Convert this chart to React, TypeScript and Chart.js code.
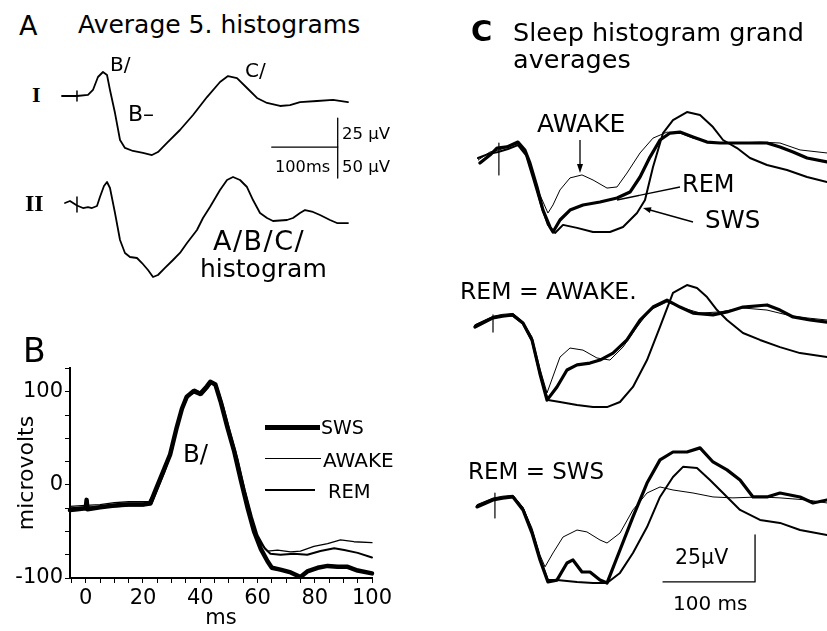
import React, { useEffect, useRef } from "react";
import { Chart, registerables } from "chart.js";
Chart.register(...registerables);

type Pt = [number, number];

// ---------- Panel A (x: ms from stimulus, y: µV) ----------
const A_TRACE_I: Pt[] = [
  [-22.7, 0], [-10.6, 0], [0, 0], [16.7, 0.9], [24.2, 5.2], [31.8, 16.4], [39.4, 20.7], [45.5, 18.1],
  [50, 5.2], [57.6, -14.7], [65.2, -37.9], [72.7, -44.8], [84.8, -47.4], [100, -49.1], [113.6, -50.9],
  [122.7, -48.3], [136.4, -40.5], [156, -29.3], [175.8, -16.4], [197, -0.9], [216.7, 12.1], [228.8, 17.2],
  [242.4, 15.5], [257.6, 6.9], [272.7, -1.7], [287.9, -6], [307.6, -8.6], [322.7, -7.8], [337.9, -5.2],
  [363.6, -4.3], [387.9, -3.4], [410.6, -5.2],
];
const A_TRACE_II: Pt[] = [
  [-18.2, 0], [-10.6, 3.2], [0, -4], [9.1, -8.1], [16.7, -6.5], [22.7, -8.1], [30.3, -4.8], [34.8, 9.7],
  [40.9, 27.4], [45.5, 33.9], [50, 24.2], [57.6, -16.1], [65.2, -59.7], [72.7, -80.6], [80.3, -87.1],
  [90.9, -88.7], [98.5, -96.8], [107.6, -108.1], [115.2, -119.4], [122.7, -116.1], [133.3, -104.8],
  [145.5, -91.9], [156, -80.6], [166.7, -64.5], [181.8, -43.5], [190.9, -24.2], [201.5, -6.5], [216.7, 21],
  [227.3, 37.1], [236.4, 41.9], [247, 37.1], [257.6, 25.8], [266.7, 4.8], [277.3, -16.1], [287.9, -24.2],
  [297, -29], [318.2, -27.4], [327.3, -24.2], [337.9, -16.1], [345.5, -11.3], [357.6, -14.5], [368.2, -19.4],
  [383.3, -27.4], [393.9, -32.3], [410.6, -32.3],
];
const A_STIM_I: Pt[] = [[0, 4.3], [0, -4.3]];
const A_STIM_II: Pt[] = [[0, 9.7], [0, -14.5]];
const A_BAR_I: Pt[] = [[295, -44], [395, -44], [395, -19]]; // 100 ms, 25 µV
const A_BAR_II: Pt[] = [[395, 90.3], [395, 40.3]]; // 50 µV

// ---------- Panel B (x: ms, y: microvolts) ----------
const B_X_LABELS = [0, 20, 40, 60, 80, 100];
const B_Y_LABELS = [-100, 0, 100];
const B_SWS: Pt[] = [
  [-5.5, -27], [-3, -26], [0, -25], [0.3, -16], [0.6, -26], [5, -24], [10, -22], [15, -21], [20, -21],
  [22.5, -20], [24.6, -4], [27, 14], [29.5, 33], [31.8, 62], [33.6, 82], [35.3, 95], [37.7, 101], [40, 98],
  [42.3, 106], [43.5, 111], [45.3, 108], [47.1, 90], [49.5, 62], [51.8, 37], [54.2, 5], [56.5, -24],
  [58.8, -50], [61.2, -69], [63.5, -82], [65, -89], [68, -91], [71.6, -94], [75, -99], [77.4, -93],
  [81, -89], [84.5, -87], [88, -88], [91.5, -88], [95, -92], [100, -95],
];
const B_AWAKE: Pt[] = [
  [-5.5, -23], [0, -22], [5, -21], [10, -19], [15, -18], [20, -18], [22, -18], [24, -8], [26.5, 10],
  [29, 30], [31.5, 58], [33.5, 80], [35.5, 96], [38, 103], [40, 100], [42, 105], [43.5, 112], [45.5, 107],
  [47.5, 86], [50, 58], [52, 34], [54.5, 2], [57, -28], [59, -50], [61.5, -64], [63.5, -71], [67, -70],
  [71.6, -72], [75, -71], [79.7, -66], [84.5, -63], [89, -59], [93.7, -61], [100, -62],
];
const B_REM: Pt[] = [
  [-5.5, -25], [0, -24], [5, -24], [10, -23], [15, -22], [20, -22], [23, -20], [25, -5], [27.5, 14],
  [30, 36], [32, 64], [34, 84], [36, 97], [38.5, 100], [40.5, 97], [42.5, 104], [44, 110], [46, 104],
  [48, 84], [50.5, 55], [53, 28], [55.5, -5], [58, -34], [60, -54], [62.5, -68], [64.5, -74], [68, -75],
  [72.7, -74], [77.4, -75], [82, -71], [86.8, -68], [90.3, -70], [95, -73], [100, -78],
];

// ---------- Panel C (x: ms, y: µV) ----------
const C1_REM: Pt[] = [
  [-19.6, -4.3], [-8.7, 0], [-1.1, 3.7], [9.8, 4.3], [21.7, 6.9], [29.3, 2.7], [34.8, -4.3], [42.4, -17],
  [48.9, -29.3], [56.5, -38.3], [59.8, -41], [67.4, -34.6], [78.3, -29.3], [92.4, -26.6], [110.9, -25],
  [129.4, -22.9], [143.5, -19.7], [154.4, -11.7], [165.2, -1.1], [176.1, 8], [187, 11.7], [197.8, 12.2],
  [212, 9.6], [227.2, 6.9], [241.3, 6.4], [266.3, 6.4], [292.4, 6.4], [306.5, 4.3], [320.7, 1.6],
  [335.9, -1.6], [357.6, -3.7],
];
const C1_AWAKE: Pt[] = [
  [-21.7, -2.7], [-8.7, 1.6], [1.1, 2.7], [13, 4.8], [21.7, 5.9], [29.3, 1.6], [37, -8], [45.7, -21.3],
  [54.3, -30.9], [59.8, -26.6], [67.4, -18.6], [78.3, -12.2], [91.3, -10.6], [103.3, -13.3], [118.5, -17.6],
  [129.4, -17], [140.2, -9.6], [154.4, 1.1], [168.5, 9], [183.7, 12.2], [197.8, 11.7], [212, 9],
  [233.7, 6.4], [259.8, 6.4], [284.8, 6.9], [306.5, 6.4], [328.3, 2.7], [357.6, 1.1],
];
const C1_SWS: Pt[] = [
  [-21.7, -1.6], [-10.9, 0.5], [0, 1.6], [10.9, 3.2], [21.7, 5.3], [30.4, 0], [38, -12.2], [46.7, -26.6],
  [54.3, -37.2], [62, -41.5], [70.7, -37.2], [85.9, -38.8], [103.3, -41], [121.7, -41], [135.9, -38.3],
  [151.1, -30.9], [159.8, -23.9], [168.5, -6.4], [179.4, 11.7], [190.2, 18.6], [205.4, 22.9], [219.6, 21.3],
  [233.7, 14.9], [244.6, 8], [259.8, 3.7], [273.9, -1.6], [292.4, -5.3], [314.1, -8], [335.9, -11.7],
  [357.6, -14.4],
];
const C1_STIM: Pt[] = [[1, 6.4], [1, -10.6]];

const C2_REM: Pt[] = [
  [-25, -3.7], [-5.4, 1.1], [5, 2], [16.3, 2.7], [27.2, -1.6], [37, -10.6], [45.7, -28.7], [53.3, -42.6],
  [64.1, -35.6], [75, -26.6], [85.9, -23.9], [100, -22.9], [110.9, -21.3], [125, -17.6], [140.2, -10.6],
  [154.4, 0], [168.5, 6.9], [183.7, 10.6], [197.8, 6.9], [212, 3.7], [233.7, 2.7], [248.9, 4.3],
  [266.3, 6.9], [292.4, 8], [306.5, 5.3], [320.7, 1.6], [339.1, 0], [357.6, -1.1],
];
const C2_AWAKE: Pt[] = [
  [-25, -2.5], [-5.4, 2], [5, 3], [16.3, 3.5], [27.2, -1], [37, -9], [45.7, -26], [53.3, -38.8],
  [67.4, -19.7], [78.3, -14.9], [92.4, -16], [107.6, -20.2], [121.7, -21.3], [135.9, -14.4], [151.1, -3.7],
  [165.2, 5.3], [183.7, 9.6], [197.8, 6.9], [219.6, 3.7], [241.3, 4.3], [266.3, 6.4], [292.4, 5.3],
  [314.1, 2.7], [335.9, 1.1], [357.6, 0],
];
const C2_SWS: Pt[] = [
  [-25, -3], [-5.4, 1.5], [5, 2.5], [16.3, 2.2], [27.2, -2], [37, -11], [45.7, -29], [54.3, -42.6],
  [67.4, -43.6], [85.9, -45.2], [103.3, -46.3], [118.5, -46.3], [132.6, -43.6], [146.7, -35.6], [162, -21.3],
  [176.1, -3.7], [190.2, 14.4], [205.4, 18.6], [216.3, 17], [227.2, 12.2], [238.1, 5.3], [248.9, 0],
  [266.3, -6.9], [284.8, -10.6], [306.5, -14.4], [328.3, -17.6], [357.6, -19.7],
];
const C2_STIM: Pt[] = [[-5.4, 2.7], [-5.4, -6.4]];

const C3_REM: Pt[] = [
  [-22.8, -3.7], [-5.4, 0], [5, 1], [16.3, 1.6], [27.2, -5.3], [37, -17.6], [45.7, -31.9], [54.3, -43.6],
  [64.1, -42.6], [75, -33.5], [81.5, -31.9], [91.3, -38.3], [100, -38.3], [110.9, -42.6], [118.5, -44.2],
  [132.6, -26.6], [146.7, -9], [162, 9], [176.1, 21.3], [190.2, 25.5], [205.4, 25.5], [219.6, 27.7],
  [233.7, 20.2], [248.9, 16], [263.1, 10.6], [277.2, 1.6], [292.4, 1.6], [306.5, 3.7], [328.3, 1.6],
  [342.4, -1.6], [357.6, 0],
];
const C3_SWS: Pt[] = [
  [-22.8, -3], [-5.4, 0.5], [5, 1.5], [16.3, 2], [27.2, -4.5], [37, -17], [45.7, -31], [54.3, -42.6],
  [64.1, -42.6], [85.9, -43.6], [103.3, -44.2], [118.5, -44.2], [132.6, -38.8], [146.7, -28.2], [162, -14.4],
  [176.1, 1.6], [190.2, 12.2], [201.1, 17.6], [216.3, 17], [230.4, 10.6], [244.6, 3.7], [263.1, -5.3],
  [284.8, -10.6], [306.5, -12.2], [328.3, -16], [357.6, -18.6],
];
const C3_AWAKE: Pt[] = [
  [-22.8, -2.5], [-5.4, 1], [5, 2], [16.3, 2.5], [27.2, -4], [37, -15], [45.7, -29.3], [51.1, -35.6],
  [59.8, -28.2], [70.7, -19.7], [85.9, -16], [96.7, -17], [110.9, -21.3], [118.5, -22.9], [132.6, -17.6],
  [146.7, -5.3], [162, 3.7], [176.1, 6.9], [190.2, 5.3], [212, 3.7], [233.7, 1.6], [255.4, 1.1],
  [284.8, 1.6], [306.5, 1.1], [335.9, 0], [357.6, -1.6],
];
const C3_STIM: Pt[] = [[-3.3, 3.7], [-3.3, -9.6]];
const C_BAR: Pt[] = [[179.4, -43.6], [279.4, -43.6], [279.4, -18.6]]; // 100 ms, 25 µV

// ---------- helpers ----------
type Series = { data: Pt[]; width: number };
type Box = { left: number; top: number; width: number; height: number };

const FONT = "'DejaVu Sans', 'Liberation Sans', sans-serif";
const SERIF = "'Liberation Serif', 'Times New Roman', serif";

function toDatasets(series: Series[]) {
  return series.map((s) => ({
    data: s.data.map(([x, y]) => ({ x, y })),
    borderColor: "#000",
    borderWidth: s.width,
    pointRadius: 0,
    tension: 0,
    fill: false,
    clip: false as any,
    borderJoinStyle: "round" as const,
    borderCapStyle: "round" as const,
  }));
}

function TraceChart({ box, x, y, series }: { box: Box; x: [number, number]; y: [number, number]; series: Series[] }) {
  const ref = useRef<HTMLCanvasElement>(null);
  useEffect(() => {
    const chart = new Chart(ref.current!, {
      type: "line",
      data: { datasets: toDatasets(series) as any },
      options: {
        animation: false,
        responsive: false,
        events: [],
        layout: { padding: 0 },
        plugins: { legend: { display: false }, tooltip: { enabled: false } },
        scales: {
          x: { type: "linear", display: false, min: x[0], max: x[1] },
          y: { type: "linear", display: false, min: y[0], max: y[1] },
        },
      },
    });
    return () => chart.destroy();
  }, []);
  return (
    <canvas
      ref={ref}
      width={box.width}
      height={box.height}
      style={{ position: "absolute", left: box.left, top: box.top, width: box.width, height: box.height }}
    />
  );
}

function PanelBChart() {
  const ref = useRef<HTMLCanvasElement>(null);
  useEffect(() => {
    const tickFont = { family: FONT, size: 21 };
    const chart = new Chart(ref.current!, {
      type: "line",
      data: {
        datasets: toDatasets([
          { data: B_AWAKE, width: 1.3 },
          { data: B_REM, width: 2 },
          { data: B_SWS, width: 4.5 },
        ]) as any,
      },
      options: {
        animation: false,
        responsive: false,
        events: [],
        layout: { padding: { top: 28, right: 28, left: 0, bottom: 0 } },
        plugins: { legend: { display: false }, tooltip: { enabled: false } },
        scales: {
          x: {
            type: "linear",
            min: -5.5,
            max: 100,
            border: { display: true, color: "#000", width: 2 },
            grid: { display: true, drawOnChartArea: false, drawTicks: true, tickLength: 5, color: "#000", lineWidth: 1 },
            ticks: {
              stepSize: 5,
              includeBounds: false,
              autoSkip: false,
              maxRotation: 0,
              minRotation: 0,
              color: "#000",
              padding: 3,
              font: tickFont,
              callback: (v: any) => (B_X_LABELS.includes(Number(v)) ? String(v) : ""),
            },
            title: { display: true, text: "ms", color: "#000", font: tickFont, padding: 0 },
            afterFit: (s: any) => {
              s.height = 53;
              s.paddingLeft = 0;
              s.paddingRight = 0;
            },
          } as any,
          y: {
            type: "linear",
            min: -100,
            max: 125.8,
            border: { display: true, color: "#000", width: 2 },
            grid: { display: true, drawOnChartArea: false, drawTicks: true, tickLength: 5, color: "#000", lineWidth: 1 },
            ticks: {
              stepSize: 25,
              includeBounds: false,
              autoSkip: false,
              color: "#000",
              padding: 2,
              font: tickFont,
              callback: (v: any) => (B_Y_LABELS.includes(Number(v)) ? String(v) : ""),
            },
            title: { display: true, text: "microvolts", color: "#000", font: { family: FONT, size: 22 }, padding: { top: 14, bottom: 0 } },
            afterFit: (s: any) => {
              s.width = 70;
              s.paddingTop = 0;
              s.paddingBottom = 0;
            },
          } as any,
        },
      },
    });
    return () => chart.destroy();
  }, []);
  return (
    <canvas ref={ref} width={400} height={291} style={{ position: "absolute", left: 0, top: 340, width: 400, height: 291 }} />
  );
}

function T({ x, y, size, text, serif, bold, ls }: { x: number; y: number; size: number; text: string; serif?: boolean; bold?: boolean; ls?: number }) {
  const off = serif ? 0.175 : 0.117;
  return (
    <div
      style={{
        position: "absolute",
        left: x,
        top: y - off * size,
        fontFamily: serif ? SERIF : FONT,
        fontWeight: bold ? 700 : 400,
        fontSize: size,
        lineHeight: 1,
        whiteSpace: "nowrap",
        letterSpacing: ls ?? 0,
        color: "#000",
      }}
    >
      {text}
    </div>
  );
}

const A_X: [number, number] = [-33.3, 421.2];
const C_X: [number, number] = [-30.4, 357.6];

export default function App() {
  return (
    <div style={{ position: "fixed", left: 0, top: 0, width: 827, height: 631, background: "#fff", overflow: "hidden" }}>
      {/* Panel A */}
      <TraceChart
        box={{ left: 55, top: 40, width: 300, height: 130 }}
        x={A_X}
        y={[-63.8, 48.3]}
        series={[
          { data: A_TRACE_I, width: 1.8 },
          { data: A_STIM_I, width: 1.5 },
          { data: A_BAR_I, width: 1.3 },
        ]}
      />
      <TraceChart
        box={{ left: 55, top: 140, width: 300, height: 150 }}
        x={A_X}
        y={[-140.3, 101.6]}
        series={[
          { data: A_TRACE_II, width: 1.8 },
          { data: A_STIM_II, width: 1.5 },
          { data: A_BAR_II, width: 1.3 },
        ]}
      />
      <T x={19} y={15} size={27} text="A" />
      <T x={78} y={15} size={25} text="Average 5. histograms" />
      <T x={32} y={88} size={22} serif bold text="I" />
      <T x={25} y={195} size={24} serif bold text="II" />
      <T x={110} y={56} size={20} text="B/" />
      <T x={128} y={106} size={22} text="B–" />
      <T x={245} y={62} size={20} text="C/" />
      <T x={342} y={128} size={16.5} text="25 µV" />
      <T x={275} y={161} size={16.2} text="100ms" />
      <T x={342} y={161} size={16.5} text="50 µV" />
      <T x={213} y={230} size={27} ls={1.5} text="A/B/C/" />
      <T x={200} y={259} size={25} text="histogram" />

      {/* Panel B */}
      <PanelBChart />
      <T x={23} y={338} size={33} text="B" />
      <T x={183} y={445} size={24.5} text="B/" />
      <div style={{ position: "absolute", left: 265, top: 425, width: 55, height: 4.5, background: "#000" }} />
      <div style={{ position: "absolute", left: 265, top: 457.5, width: 56, height: 1.3, background: "#000" }} />
      <div style={{ position: "absolute", left: 265, top: 489, width: 50, height: 2, background: "#000" }} />
      <T x={321} y={420} size={19} text="SWS" />
      <T x={323} y={452} size={20} text="AWAKE" />
      <T x={328} y={484} size={19.5} text="REM" />

      {/* Panel C */}
      <TraceChart
        box={{ left: 470, top: 100, width: 357, height: 160 }}
        x={C_X}
        y={[-55.9, 29.3]}
        series={[
          { data: C1_AWAKE, width: 1 },
          { data: C1_SWS, width: 2 },
          { data: C1_REM, width: 3.2 },
          { data: C1_STIM, width: 1.2 },
        ]}
      />
      <TraceChart
        box={{ left: 470, top: 270, width: 357, height: 160 }}
        x={C_X}
        y={[-58.5, 26.6]}
        series={[
          { data: C2_AWAKE, width: 1 },
          { data: C2_SWS, width: 2 },
          { data: C2_REM, width: 3.2 },
          { data: C2_STIM, width: 1.2 },
        ]}
      />
      <TraceChart
        box={{ left: 470, top: 430, width: 357, height: 170 }}
        x={C_X}
        y={[-53.2, 37.2]}
        series={[
          { data: C3_AWAKE, width: 1 },
          { data: C3_SWS, width: 2 },
          { data: C3_REM, width: 3.2 },
          { data: C3_STIM, width: 1.2 },
          { data: C_BAR, width: 1.3 },
        ]}
      />
      <svg width={827} height={631} style={{ position: "absolute", left: 0, top: 0, pointerEvents: "none" }}>
        <line x1={580} y1={140} x2={580} y2={166} stroke="#000" strokeWidth={1.3} />
        <polygon points="577,164 583,164 580,173" fill="#000" />
        <line x1={680} y1={187} x2={617} y2={200} stroke="#000" strokeWidth={1.3} />
        <line x1={693} y1={222} x2={650} y2={210} stroke="#000" strokeWidth={1.3} />
        <polygon points="643,208 651.5,207.3 649.9,213.1" fill="#000" />
      </svg>
      <T x={471} y={20} size={29} bold text="C" />
      <T x={513} y={23} size={25.5} text="Sleep histogram grand" />
      <T x={513} y={50} size={25.5} text="averages" />
      <T x={537} y={114} size={25} text="AWAKE" />
      <T x={682} y={175} size={24} text="REM" />
      <T x={705} y={211} size={24.5} text="SWS" />
      <T x={460} y={283} size={23.5} text="REM = AWAKE." />
      <T x={468} y={463} size={23} text="REM = SWS" />
      <T x={675} y={549} size={20.5} text="25µV" />
      <T x={673} y={595} size={20} text="100 ms" />
    </div>
  );
}
